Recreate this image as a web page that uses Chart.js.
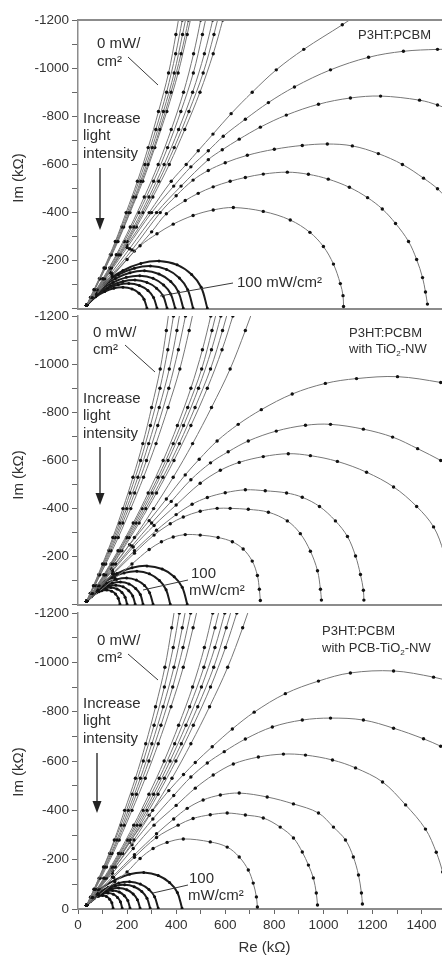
<!DOCTYPE html>
<html lang="en">
<head>
<meta charset="UTF-8">
<title>Nyquist plots under illumination</title>
<script src="https://cdn.jsdelivr.net/npm/chart.js"></script>
<style>
  html, body { margin: 0; padding: 0; background: #fff; overflow: hidden; }
  #wrap { position: relative; width: 442px; height: 957px; overflow: hidden; }
  canvas { position: absolute; left: 0; }
</style>
</head>
<body>
<div id="wrap">
  <canvas id="c1" width="470" height="320" style="top:0px"></canvas>
  <canvas id="c2" width="470" height="320" style="top:296px"></canvas>
  <canvas id="c3" width="470" height="364" style="top:593px"></canvas>
</div>

<script>
// Im levels of the sampled points on the near-straight low-intensity curves
// (11-point curves use lineIm, 12-point curves use lineImB)
const lineIm = [-15, -80, -170, -280, -400, -530, -670, -820, -980, -1140, -1260];
const lineImB = [-15, -48, -125, -225, -340, -465, -600, -745, -900, -1060, -1200, -1260];

// ---- P3HT:PCBM ----
const pcbmLinesRe = [
  [35, 65, 106, 152, 196, 242, 286, 328, 369, 399, 419],
  [35, 51, 87, 132, 178, 225, 272, 317, 361, 398, 425, 436],
  [35, 67, 110, 158, 206, 255, 302, 348, 392, 426, 450],
  [35, 52, 90, 136, 186, 235, 285, 333, 379, 420, 450, 462],
  [35, 68, 112, 163, 212, 264, 313, 362, 408, 445, 471],
  [35, 55, 101, 156, 213, 270, 327, 380, 430, 471, 500, 511],
  [35, 76, 129, 189, 248, 308, 365, 419, 470, 507, 532],
  [35, 56, 105, 165, 227, 289, 351, 410, 467, 515, 549, 562],
  [35, 78, 136, 200, 264, 329, 392, 452, 510, 554, 583],
  [35, 57, 109, 172, 238, 305, 372, 435, 497, 551, 590, 605]
];
const pcbmArcs = [
  [[35,-15],[75,-60],[140,-135],[200,-205],[253,-262],[322,-312],[388,-352],[469,-388],[551,-411],[633,-421],[755,-405],[865,-369],[945,-318],[1000,-259],[1041,-186],[1069,-105],[1080,-55],[1082,-10]],
  [[35,-15],[75,-65],[140,-140],[230,-240],[300,-320],[360,-395],[437,-450],[490,-480],[551,-507],[620,-530],[682,-546],[755,-560],[853,-568],[939,-559],[1020,-539],[1106,-505],[1180,-462],[1240,-415],[1294,-355],[1347,-280],[1380,-205],[1404,-130],[1416,-70],[1424,-20]],
  [[35,-15],[75,-68],[140,-145],[220,-245],[335,-400],[400,-470],[469,-535],[531,-575],[600,-607],[690,-638],[800,-663],[914,-679],[1016,-685],[1118,-677],[1224,-645],[1322,-600],[1408,-543],[1465,-499],[1520,-440]],
  [[35,-15],[75,-70],[135,-148],[210,-250],[320,-400],[420,-510],[531,-620],[588,-661],[657,-705],[743,-755],[849,-805],[980,-850],[1110,-876],[1233,-884],[1392,-867],[1465,-847],[1520,-825]],
  [[35,-15],[75,-72],[130,-152],[200,-255],[300,-400],[390,-510],[460,-590],[531,-657],[592,-717],[682,-788],[776,-857],[882,-922],[1029,-993],[1184,-1045],[1326,-1070],[1465,-1078],[1520,-1078]],
  [[35,-15],[75,-75],[130,-160],[200,-265],[290,-400],[380,-530],[441,-600],[490,-657],[550,-726],[624,-811],[710,-900],[808,-993],[920,-1078],[1077,-1180],[1150,-1230]]
];
const pcbmSmallArcs = [
  [[35,-15],[72,-50],[109,-72],[146,-86],[183,-90],[220,-83],[249,-65],[269,-40],[281,-3]],
  [[35,-15],[78,-58],[121,-84],[164,-100],[207,-105],[250,-97],[285,-76],[308,-47],[322,-3]],
  [[35,-15],[84,-66],[133,-96],[183,-114],[232,-120],[281,-110],[320,-86],[347,-54],[363,-3]],
  [[35,-15],[89,-76],[143,-110],[197,-131],[252,-138],[306,-127],[349,-99],[378,-62],[396,-3]],
  [[35,-15],[94,-87],[153,-126],[212,-150],[271,-158],[330,-145],[378,-114],[409,-71],[429,-3]],
  [[35,-15],[100,-98],[165,-142],[230,-169],[295,-178],[361,-164],[413,-128],[447,-80],[469,-3]],
  [[35,-15],[109,-109],[183,-159],[256,-189],[330,-199],[404,-183],[463,-143],[502,-90],[527,-3]]
];

// ---- P3HT:PCBM with TiO2-NW ----
const nwLinesRe = [
  [35, 63, 100, 142, 183, 224, 264, 300, 335, 360, 376],
  [35, 50, 84, 125, 169, 212, 255, 295, 334, 366, 389, 398],
  [35, 66, 106, 152, 198, 244, 288, 331, 372, 403, 423],
  [35, 51, 89, 134, 182, 231, 279, 325, 370, 409, 438, 450],
  [35, 69, 113, 164, 215, 267, 318, 367, 415, 453, 479],
  [35, 56, 105, 163, 225, 286, 347, 405, 460, 507, 541, 554],
  [35, 78, 135, 198, 261, 326, 388, 447, 504, 546, 575],
  [35, 57, 108, 170, 236, 302, 367, 430, 491, 544, 582, 597],
  [35, 80, 141, 208, 276, 346, 413, 477, 540, 589, 622],
  [35, 59, 113, 179, 249, 320, 391, 460, 527, 587, 631, 648],
  [35, 86, 153, 230, 308, 388, 467, 544, 620, 682, 725]
];
const nwArcs = [
  [[35,-15],[75,-70],[135,-150],[210,-250],[290,-350],[360,-440],[437,-540],[494,-605],[567,-681],[653,-750],[747,-811],[873,-876],[1008,-920],[1135,-940],[1302,-948],[1478,-924],[1520,-912]],
  [[35,-15],[75,-68],[140,-145],[220,-245],[300,-340],[380,-430],[460,-520],[540,-590],[612,-636],[694,-681],[808,-722],[927,-746],[1029,-750],[1163,-730],[1282,-697],[1384,-649],[1478,-600],[1520,-575]],
  [[35,-15],[75,-66],[140,-140],[225,-240],[310,-330],[400,-415],[498,-505],[580,-559],[657,-592],[755,-616],[857,-628],[947,-620],[1057,-596],[1176,-551],[1286,-490],[1380,-409],[1449,-324],[1490,-220],[1510,-130]],
  [[35,-15],[75,-62],[140,-130],[230,-225],[320,-310],[400,-375],[465,-418],[527,-446],[600,-466],[682,-478],[763,-474],[850,-465],[914,-447],[984,-409],[1049,-349],[1098,-284],[1131,-203],[1151,-126],[1163,-61],[1165,-20]],
  [[35,-15],[80,-62],[145,-130],[230,-215],[310,-290],[376,-337],[429,-365],[498,-389],[567,-401],[620,-401],[694,-397],[776,-385],[853,-349],[906,-296],[947,-223],[976,-142],[988,-65],[992,-20]],
  [[35,-15],[85,-55],[150,-110],[220,-170],[290,-230],[340,-262],[388,-282],[437,-292],[498,-290],[571,-280],[629,-262],[673,-232],[710,-182],[731,-122],[739,-65],[743,-18]]
];
const nwSmallArcs = [
  [[35,-15],[55,-34],[76,-50],[96,-59],[117,-62],[137,-57],[153,-45],[164,-28],[171,-3]],
  [[35,-15],[60,-40],[85,-58],[109,-68],[134,-72],[159,-66],[179,-52],[192,-32],[200,-3]],
  [[35,-15],[65,-45],[94,-66],[124,-78],[154,-82],[184,-75],[207,-59],[223,-37],[233,-3]],
  [[35,-15],[70,-52],[104,-76],[139,-90],[173,-95],[208,-87],[235,-68],[254,-43],[265,-3]],
  [[35,-15],[76,-62],[116,-90],[157,-106],[198,-112],[238,-103],[271,-81],[292,-50],[306,-3]],
  [[35,-15],[86,-77],[137,-112],[188,-133],[240,-140],[291,-129],[332,-101],[359,-63],[376,-3]],
  [[35,-15],[97,-89],[158,-130],[220,-154],[281,-162],[343,-149],[392,-117],[425,-73],[445,-3]]
];

// ---- P3HT:PCBM with PCB-TiO2-NW ----
const pcbLinesRe = [
  [35, 65, 104, 148, 190, 234, 276, 316, 354, 382, 400],
  [35, 51, 86, 129, 175, 221, 266, 310, 352, 388, 413, 423],
  [35, 67, 109, 158, 205, 254, 301, 347, 391, 425, 447],
  [35, 52, 90, 138, 188, 238, 289, 338, 386, 428, 459, 472],
  [35, 70, 116, 168, 220, 274, 327, 379, 429, 469, 497],
  [35, 56, 105, 165, 227, 289, 351, 410, 467, 515, 549, 562],
  [35, 78, 136, 201, 265, 331, 394, 455, 513, 558, 587],
  [35, 58, 110, 173, 240, 308, 375, 440, 503, 558, 598, 614],
  [35, 81, 143, 212, 281, 352, 421, 488, 553, 604, 639],
  [35, 59, 115, 182, 254, 326, 399, 470, 540, 601, 647, 665],
  [35, 85, 152, 228, 304, 383, 460, 536, 610, 671, 712]
];
const pcbArcs = [
  [[35,-15],[75,-75],[135,-160],[210,-270],[290,-380],[370,-480],[430,-545],[478,-594],[547,-658],[629,-730],[718,-798],[845,-873],[980,-924],[1110,-957],[1286,-965],[1449,-940],[1520,-922]],
  [[35,-15],[75,-72],[140,-155],[220,-260],[305,-365],[390,-460],[460,-535],[527,-592],[596,-638],[682,-689],[792,-738],[914,-766],[1029,-774],[1163,-766],[1286,-733],[1408,-690],[1478,-660],[1520,-640]],
  [[35,-15],[75,-68],[140,-145],[225,-245],[310,-340],[400,-420],[478,-490],[551,-543],[633,-588],[735,-616],[837,-628],[927,-624],[1037,-604],[1131,-572],[1241,-515],[1335,-422],[1416,-324],[1460,-230],[1486,-150],[1500,-90]],
  [[35,-15],[75,-62],[140,-130],[230,-220],[320,-305],[390,-365],[445,-408],[510,-442],[580,-462],[657,-470],[771,-454],[878,-426],[980,-389],[1041,-332],[1090,-280],[1122,-211],[1143,-138],[1155,-65],[1159,-20]],
  [[35,-15],[80,-62],[145,-128],[230,-210],[320,-290],[408,-340],[469,-367],[539,-382],[608,-389],[682,-381],[755,-369],[824,-332],[878,-288],[914,-231],[939,-178],[959,-126],[971,-65],[976,-16]],
  [[35,-15],[85,-55],[150,-110],[200,-150],[253,-205],[306,-245],[363,-270],[429,-284],[539,-272],[608,-251],[657,-211],[694,-158],[714,-105],[727,-49],[731,-8]]
];
const pcbSmallArcs = [
  [[35,-15],[51,-30],[67,-44],[84,-52],[100,-55],[116,-51],[129,-40],[138,-25],[143,-3]],
  [[35,-15],[57,-36],[79,-52],[100,-62],[122,-65],[144,-60],[161,-47],[173,-29],[180,-3]],
  [[35,-15],[62,-41],[88,-60],[115,-71],[141,-75],[168,-69],[189,-54],[203,-34],[212,-3]],
  [[35,-15],[68,-47],[100,-68],[133,-81],[166,-85],[199,-78],[225,-61],[242,-38],[253,-3]],
  [[35,-15],[74,-54],[113,-78],[152,-93],[190,-98],[229,-90],[260,-71],[281,-44],[294,-3]],
  [[35,-15],[79,-61],[123,-88],[166,-105],[210,-110],[254,-101],[289,-79],[312,-50],[327,-3]],
  [[35,-15],[93,-81],[152,-118],[210,-141],[268,-148],[327,-136],[373,-107],[405,-67],[424,-3]]
];

const FONT = '"Liberation Sans", Arial, sans-serif';
Chart.defaults.font.family = FONT;

function toXY(pairs) { return pairs.map(p => ({ x: p[0], y: p[1] })); }
function lineXY(res) {
  const ims = res.length === lineImB.length ? lineImB : lineIm;
  return res.map((r, i) => ({ x: r, y: ims[i] }));
}

function panelDatasets(lines, arcs, smalls) {
  const base = {
    showLine: true, borderColor: '#777', borderWidth: 1, tension: 0.35,
    pointRadius: 1.7, pointBackgroundColor: '#111', pointBorderWidth: 0
  };
  return [
    ...lines.map(r => ({ ...base, data: lineXY(r) })),
    ...arcs.map(a => ({ ...base, data: toXY(a) })),
    ...smalls.map(a => ({ ...base, borderColor: '#1c1c1c', borderWidth: 2, pointRadius: 1.5, data: toXY(a) }))
  ];
}

function panelOptions(showX, xHeight) {
  return {
    responsive: false,
    animation: false,
    events: [],
    layout: { padding: { top: 20, right: 19, left: 0, bottom: 0 } },
    plugins: { legend: { display: false }, tooltip: { enabled: false } },
    scales: {
      x: {
        type: 'linear', min: 0, max: 1520,
        afterFit: s => { s.height = xHeight; },
        border: { color: '#8c8c8c', width: 2 },
        grid: { drawOnChartArea: false, drawTicks: showX, tickLength: 5, color: '#666' },
        ticks: {
          display: showX, stepSize: 100, padding: 3, color: '#333', maxRotation: 0, autoSkip: false,
          font: { size: 13.5 },
          callback: v => (v % 200 === 0 ? String(v) : '')
        },
        title: {
          display: showX, text: 'Re (kΩ)', color: '#333',
          font: { size: 15 }, padding: { top: 0, bottom: 0 }
        }
      },
      y: {
        type: 'linear', min: -1200, max: 0, reverse: true,
        afterFit: s => { s.width = 78; },
        border: { color: '#8c8c8c', width: 1.5 },
        grid: { drawOnChartArea: false, tickLength: 6, color: '#666' },
        ticks: {
          stepSize: 100, padding: 3, color: '#333', autoSkip: false,
          font: { size: 13.5 },
          callback: v => ((v % 200 === 0 && (v !== 0 || showX)) ? String(v) : '')
        }
      }
    }
  };
}

// annotation text, pointer lines and arrow, in page pixels
function notesPlugin(n) {
  return {
    id: 'notes',
    afterDraw(chart) {
      const ctx = chart.ctx;
      const dy = -n.top;
      const area = chart.chartArea;
      ctx.save();
      if (n.topBorder) {
        ctx.strokeStyle = '#8c8c8c';
        ctx.lineWidth = 2;
        ctx.beginPath();
        ctx.moveTo(area.left, area.top);
        ctx.lineTo(area.right, area.top);
        ctx.stroke();
      }
      ctx.fillStyle = '#2e2e2e';
      ctx.textAlign = 'left';
      ctx.textBaseline = 'alphabetic';
      n.texts.forEach(t => {
        let x = t.x;
        t.parts.forEach(p => {
          const sub = p[1] === 1;
          ctx.font = (sub ? t.size * 0.62 : t.size) + 'px ' + FONT;
          ctx.fillText(p[0], x, t.y + dy + (sub ? 3 : 0));
          x += ctx.measureText(p[0]).width;
        });
      });
      ctx.strokeStyle = '#3a3a3a';
      ctx.lineWidth = 1;
      n.pointers.forEach(l => {
        ctx.beginPath();
        ctx.moveTo(l[0], l[1] + dy);
        ctx.lineTo(l[2], l[3] + dy);
        ctx.stroke();
      });
      const a = n.arrow;
      ctx.lineWidth = 1.5;
      ctx.beginPath();
      ctx.moveTo(a.x, a.y1 + dy);
      ctx.lineTo(a.x, a.y2 - 10 + dy);
      ctx.stroke();
      ctx.fillStyle = '#222';
      ctx.beginPath();
      ctx.moveTo(a.x - 4.5, a.y2 - 12 + dy);
      ctx.lineTo(a.x + 4.5, a.y2 - 12 + dy);
      ctx.lineTo(a.x, a.y2 + dy);
      ctx.closePath();
      ctx.fill();
      ctx.translate(19, n.titleY + dy);
      ctx.rotate(-Math.PI / 2);
      ctx.textAlign = 'center';
      ctx.textBaseline = 'middle';
      ctx.fillStyle = '#333';
      ctx.font = '15px ' + FONT;
      ctx.fillText('Im (kΩ)', 0, 0);
      ctx.restore();
    }
  };
}

function lightNotes(y0) {
  return [
    { x: 83, y: y0, size: 15, parts: [['Increase']] },
    { x: 83, y: y0 + 17, size: 15, parts: [['light']] },
    { x: 83, y: y0 + 35, size: 15, parts: [['intensity']] }
  ];
}

const notes1 = {
  top: 0, topBorder: true, titleY: 178,
  texts: [
    { x: 97, y: 48, size: 15, parts: [['0 mW/']] },
    { x: 97, y: 66, size: 15, parts: [['cm²']] },
    ...lightNotes(123),
    { x: 237, y: 287, size: 15, parts: [['100 mW/cm²']] },
    { x: 358, y: 39, size: 13, parts: [['P3HT:PCBM']] }
  ],
  pointers: [[128, 57, 158, 85], [233, 283, 160, 296]],
  arrow: { x: 100, y1: 168, y2: 230 }
};
const notes2 = {
  top: 296, topBorder: false, titleY: 475,
  texts: [
    { x: 93, y: 337, size: 15, parts: [['0 mW/']] },
    { x: 93, y: 354, size: 15, parts: [['cm²']] },
    ...lightNotes(403),
    { x: 191, y: 578, size: 15, parts: [['100']] },
    { x: 189, y: 595, size: 15, parts: [['mW/cm²']] },
    { x: 349, y: 337, size: 13, parts: [['P3HT:PCBM']] },
    { x: 349, y: 353, size: 13, parts: [['with TiO'], ['2', 1], ['-NW']] }
  ],
  pointers: [[125, 345, 155, 372], [188, 580, 143, 590]],
  arrow: { x: 100, y1: 447, y2: 505 }
};
const notes3 = {
  top: 593, topBorder: false, titleY: 772,
  texts: [
    { x: 97, y: 645, size: 15, parts: [['0 mW/']] },
    { x: 97, y: 662, size: 15, parts: [['cm²']] },
    ...lightNotes(708),
    { x: 189, y: 883, size: 15, parts: [['100']] },
    { x: 188, y: 900, size: 15, parts: [['mW/cm²']] },
    { x: 322, y: 635, size: 13, parts: [['P3HT:PCBM']] },
    { x: 322, y: 652, size: 13, parts: [['with PCB-TiO'], ['2', 1], ['-NW']] }
  ],
  pointers: [[128, 654, 158, 680], [188, 885, 153, 893]],
  arrow: { x: 97, y1: 753, y2: 813 }
};

new Chart(document.getElementById('c1'), {
  type: 'scatter',
  data: { datasets: panelDatasets(pcbmLinesRe, pcbmArcs, pcbmSmallArcs) },
  options: panelOptions(false, 4),
  plugins: [notesPlugin(notes1)]
});
new Chart(document.getElementById('c2'), {
  type: 'scatter',
  data: { datasets: panelDatasets(nwLinesRe, nwArcs, nwSmallArcs) },
  options: panelOptions(false, 3),
  plugins: [notesPlugin(notes2)]
});
new Chart(document.getElementById('c3'), {
  type: 'scatter',
  data: { datasets: panelDatasets(pcbLinesRe, pcbArcs, pcbSmallArcs) },
  options: panelOptions(true, 48),
  plugins: [notesPlugin(notes3)]
});
</script>
</body>
</html>
